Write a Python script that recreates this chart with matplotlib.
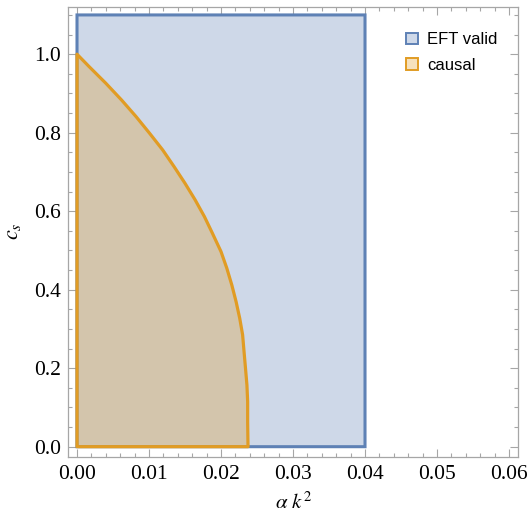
import matplotlib
matplotlib.use("Agg")
import matplotlib.pyplot as plt
from matplotlib.patches import Polygon, Rectangle, Patch
from matplotlib.ticker import MultipleLocator

# ---- data ----
eft_ak2 = [0.0, 0.04]          # EFT-valid region: alpha k^2 range
eft_cs = [0.0, 1.1]            # EFT-valid region: c_s range

cs_causal = [1.0, 0.968, 0.926, 0.883, 0.841, 0.798, 0.756, 0.713, 0.671, 0.629,
             0.586, 0.544, 0.497, 0.455, 0.412, 0.369, 0.327, 0.285, 0.242, 0.200,
             0.157, 0.115, 0.064, 0.0]
ak2_causal = [0.0, 0.0017, 0.0040, 0.0062, 0.0082, 0.0101, 0.0119, 0.0135, 0.0150, 0.0164,
              0.0177, 0.0188, 0.0200, 0.0208, 0.0215, 0.0221, 0.0226, 0.0230, 0.0232, 0.0234,
              0.0236, 0.0237, 0.0237, 0.02375]

legend_labels = ["EFT valid", "causal"]

# ---- style ----
blue = "#5E81B5"
orange = "#E19C24"
frame = "#A6A6A6"
plt.rcParams["mathtext.fontset"] = "stix"

fig = plt.figure(figsize=(5.30, 5.18), dpi=100)
ax = fig.add_axes([68.3 / 530, 1 - 456.7 / 518, 450 / 530, 450 / 518])

# EFT valid rectangle
rect = Rectangle((eft_ak2[0], eft_cs[0]), eft_ak2[1] - eft_ak2[0], eft_cs[1] - eft_cs[0],
                 facecolor=blue, alpha=0.3, edgecolor="none", zorder=1)
ax.add_patch(rect)
rect_e = Rectangle((eft_ak2[0], eft_cs[0]), eft_ak2[1] - eft_ak2[0], eft_cs[1] - eft_cs[0],
                   facecolor="none", edgecolor=blue, lw=2.2, zorder=2, snap=False)
ax.add_patch(rect_e)

# causal region
pts = [(0.0, 0.0)] + list(zip(ak2_causal, cs_causal)) + [(ak2_causal[-1], 0.0)]
poly = Polygon(pts, closed=True, facecolor=orange, alpha=0.3, edgecolor="none", zorder=3)
ax.add_patch(poly)
poly_e = Polygon(pts, closed=True, facecolor="none", edgecolor=orange, lw=2.3,
                 joinstyle="round", zorder=4, snap=False)
ax.add_patch(poly_e)

ax.set_xlim(-0.00121, 0.06129)
ax.set_ylim(-0.0255, 1.121)

ax.xaxis.set_major_locator(MultipleLocator(0.01))
ax.xaxis.set_minor_locator(MultipleLocator(0.002))
ax.yaxis.set_major_locator(MultipleLocator(0.2))
ax.yaxis.set_minor_locator(MultipleLocator(0.05))
ax.xaxis.set_major_formatter(matplotlib.ticker.FormatStrFormatter("%.2f"))
ax.yaxis.set_major_formatter(matplotlib.ticker.FormatStrFormatter("%.1f"))

for s in ax.spines.values():
    s.set_color(frame)
    s.set_linewidth(0.9)

ax.tick_params(which="both", direction="in", top=True, right=True, color=frame, width=0.8)
ax.tick_params(which="major", length=5.5)
ax.tick_params(which="minor", length=3.2)
ax.tick_params(axis="x", which="major", pad=6)
ax.tick_params(axis="y", which="major", pad=5)
for lab in ax.get_xticklabels() + ax.get_yticklabels():
    lab.set_fontfamily("Liberation Serif")
    lab.set_fontsize(15.5)

ax.set_xlabel(r"$\alpha\ k^2$", fontsize=15, labelpad=5)
ax.set_ylabel(r"$c_s$", fontsize=16, labelpad=8)

handles = [Patch(facecolor="#CFD9E9", edgecolor=blue, lw=1.4),
           Patch(facecolor="#F6E1BD", edgecolor=orange, lw=1.4)]
fig.legend(handles, legend_labels, loc="upper left", bbox_to_anchor=(398 / 530, 1 - 24 / 518),
           frameon=False, borderpad=0, handlelength=0.68, handleheight=0.68,
           handletextpad=0.55, labelspacing=0.62,
           prop={"family": "Liberation Sans", "size": 12})

fig.savefig("out.png", dpi=100)
